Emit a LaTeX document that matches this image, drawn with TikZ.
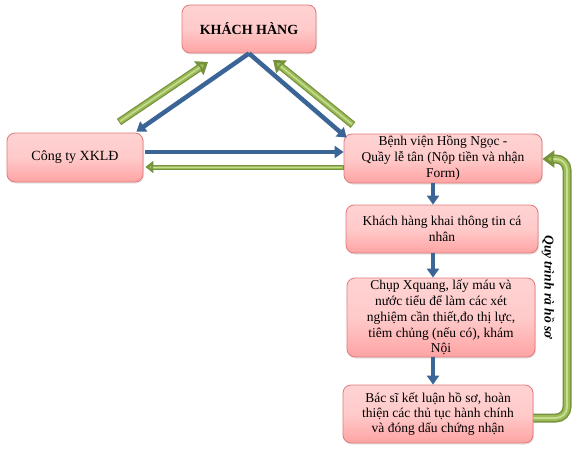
\documentclass[tikz,border=0pt]{standalone}
\usepackage{fontspec}
\setmainfont{Liberation Serif}
\newfontfamily\tnr{Liberation Serif}
\usetikzlibrary{arrows.meta,shadows,calc}
\definecolor{boxtop}{HTML}{FFD3D3}
\definecolor{boxmid}{HTML}{FFCACA}
\definecolor{boxbot}{HTML}{FFA3A3}
\definecolor{boxline}{HTML}{E07A7A}
\definecolor{bluearr}{HTML}{3B6597}
\definecolor{greendark}{HTML}{76923C}
\definecolor{greenmid}{HTML}{9BBB59}
\definecolor{greenlight}{HTML}{C6DC8E}
\tikzset{
  pbox/.style={draw=boxline, line width=0.8pt, rounded corners=8pt,
    top color=boxtop, bottom color=boxbot, middle color=boxmid,
    drop shadow={opacity=0.2, shadow xshift=1pt, shadow yshift=-1.5pt},
    align=center, inner sep=0pt, font=\tnr\fontsize{13.5}{16}\selectfont},
  barrow/.style={draw=bluearr, line width=4.5pt, -{Triangle[width=12pt,length=9pt]}},
  garrow/.style={draw=greendark, line width=7.5pt, -{Triangle[width=16pt,length=11pt,fill=greenmid]},
    postaction={draw=greenmid, line width=5pt, -, shorten >=10pt, shorten <=0.8pt},
    postaction={draw=greenlight, line width=1.5pt, -, shorten >=10pt, shorten <=1.5pt}},
}
\begin{document}
\begin{tikzpicture}[x=1pt,y=-1pt]
\useasboundingbox[fill=white] (0,0) rectangle (578,452);
% boxes
\node[pbox, minimum width=134pt, minimum height=48pt, font=\tnr\fontsize{14}{16}\selectfont\bfseries] (khach) at (249,29) {KHÁCH HÀNG};
\node[pbox, minimum width=136pt, minimum height=49pt, font=\tnr\fontsize{14}{16}\selectfont] (congty) at (75,157.5) {Công ty XKLĐ};
\node[pbox, minimum width=198pt, minimum height=49pt] (benhvien) at (443,158.5) {Bệnh viện Hồng Ngọc -\\Quầy lễ tân (Nộp tiền và nhận\\Form)};
\node[pbox, minimum width=192pt, minimum height=48pt] (khai) at (442,229) {Khách hàng khai thông tin cá\\nhân};
\node[pbox, minimum width=188pt, minimum height=79pt, font=\tnr\fontsize{13.5}{15.8}\selectfont] (chup) at (441,317.5) {Chụp Xquang, lấy máu và\\nước tiểu để làm các xét\\nghiệm cần thiết,đo thị lực,\\tiêm chủng (nếu có), khám\\Nội};
\node[pbox, minimum width=190pt, minimum height=58pt, font=\tnr\fontsize{13.5}{15}\selectfont] (bacsi) at (438,414) {Bác sĩ kết luận hồ sơ, hoàn\\thiện các thủ tục hành chính\\và đóng dấu chứng nhận};
% helper coordinates
\coordinate (g1s) at (119,122);
\coordinate (g1e) at (208,62);
\coordinate (g2s) at (353,125);
\coordinate (g2e) at (273,60);
\coordinate (yb) at (0,152);
\coordinate (yg) at (0,167);
\coordinate (downx) at (433,0);
\coordinate (gcorner1) at (567,418);
\coordinate (gcorner2) at (567,159);
% triangle arrows
\draw[garrow] (g1s) -- (g1e);
\draw[garrow] (g2s) -- (g2e);
\draw[barrow] (khach.south) -- ($(congty.north east)+(-7,-1)$);
\draw[barrow] (khach.south) -- ($(benhvien.north west)+(3,4)$);
\draw[barrow] ($(congty.east |- yb)+(2,0)$) -- (benhvien.west |- yb);
\draw[draw=greendark, line width=5pt, -{Triangle[width=12pt,length=8pt,fill=greenmid]},
  postaction={draw=greenmid, line width=3pt, -, shorten >=8pt, shorten <=0.8pt},
  postaction={draw=greenlight, line width=1pt, -, shorten >=8pt, shorten <=1.5pt}]
  (benhvien.west |- yg) -- ($(congty.east |- yg)+(2,0)$);
% vertical flow
\draw[barrow] (benhvien.south -| downx) -- (khai.north -| downx);
\draw[barrow] (khai.south -| downx) -- (chup.north -| downx);
\draw[barrow] (chup.south -| downx) -- (bacsi.north -| downx);
% return bracket
\draw[draw=greendark, line width=9pt, rounded corners=11pt, -{Triangle[width=17pt,length=12pt,fill=greenmid]},
  postaction={draw=greenmid, line width=6pt, -, rounded corners=11pt, shorten >=11pt},
  postaction={draw=greenlight, line width=2pt, -, rounded corners=11pt, shorten >=11pt}]
  (bacsi.east |- gcorner1) -- (gcorner1) -- (gcorner2) -- (benhvien.east |- gcorner2);
\node[rotate=-90, font=\tnr\fontsize{13.5}{16}\selectfont\bfseries\itshape] (label) at (548,287) {Quy trình rà hồ sơ};
\end{tikzpicture}
\end{document}
